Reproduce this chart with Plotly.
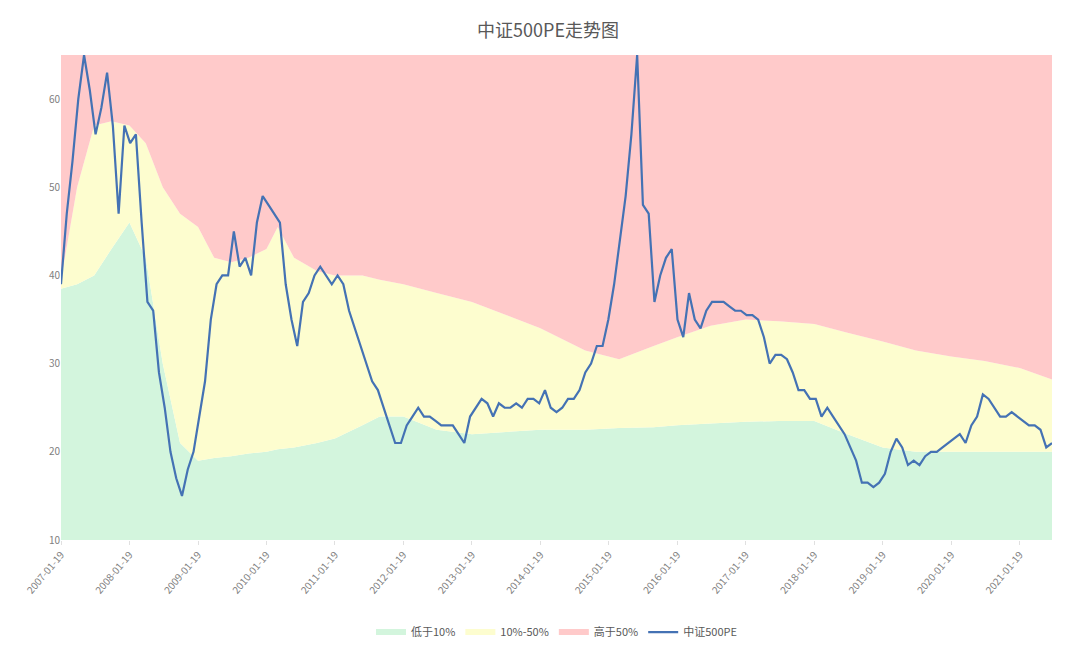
import plotly.graph_objects as go
import pandas as pd

pe_values = [39,47,53,60,65,61,56,59,63,57,47,57,
55,56,46,37,36,29,25,20,17,15,18,20,
24,28,35,39,40,40,45,41,42,40,46,49,
48,47,46,39,35,32,37,38,40,41,40,39,
40,39,36,34,32,30,28,27,25,23,21,21,
23,24,25,24,24,23.5,23,23,23,22,21,24,
25,26,25.5,24,25.5,25,25,25.5,25,26,26,25.5,
27,25,24.5,25,26,26,27,29,30,32,32,35,
39,44,49,56,65,48,47,37,40,42,43,35,
33,38,35,34,36,37,37,37,36.5,36,36,35.5,
35.5,35,33,30,31,31,30.5,29,27,27,26,26,
24,25,24,23,22,20.5,19,16.5,16.5,16,16.5,17.5,
20,21.5,20.5,18.5,19,18.5,19.5,20,20,20.5,21,21.5,
22,21,23,24,26.5,26,25,24,24,24.5,24,23.5,
23,23,22.5,20.5,21]
pe_dates = pd.date_range("2007-01-19", "2021-07-10", periods=len(pe_values))

band_dates = ["2007-01-19","2007-04-15","2007-07-15","2007-10-15","2008-01-19","2008-04-15",
"2008-07-15","2008-10-15","2009-01-19","2009-04-15","2009-07-15","2009-10-15","2010-01-19",
"2010-03-20","2010-06-15","2010-10-15","2011-01-19","2011-06-15","2011-09-15","2012-01-19",
"2012-07-15","2013-01-19","2014-01-19","2014-09-15","2015-03-15","2015-09-15","2016-01-19",
"2016-07-15","2017-01-19","2017-07-15","2018-01-19","2018-07-15","2019-01-19","2019-07-15",
"2020-01-19","2020-07-15","2021-01-19","2021-07-10"]
p10 = [38.5,39,40,43,46,42,30,21,19,19.3,19.5,19.8,20,20.3,20.5,21,21.5,23,24,24,
22.5,22,22.5,22.5,22.7,22.8,23,23.2,23.4,23.5,23.5,22,20.5,20,20,20,20,20]
p50 = [39.5,50,57,57.5,57,55,50,47,45.5,42,41.5,42,43,45.5,42,40.5,40,40,39.5,39,
38,37,34,31.5,30.5,32,33,34.3,35,34.8,34.5,33.5,32.5,31.5,30.8,30.3,29.5,28.2]
top = [65]*len(band_dates)

fig = go.Figure()
fig.add_trace(go.Scatter(x=band_dates, y=p10, fill="tozeroy", mode="none",
    fillcolor="#d3f5dd", name="低于10%"))
fig.add_trace(go.Scatter(x=band_dates, y=p50, fill="tonexty", mode="none",
    fillcolor="#fdfdcf", name="10%-50%"))
fig.add_trace(go.Scatter(x=band_dates, y=top, fill="tonexty", mode="none",
    fillcolor="#ffcaca", name="高于50%"))
fig.add_trace(go.Scatter(x=pe_dates, y=pe_values, mode="lines",
    line=dict(color="#4472b4", width=2.2), name="中证500PE"))

ticks = [f"{y}-01-19" for y in range(2007, 2022)]
fig.update_layout(
    width=1080, height=651, paper_bgcolor="white", plot_bgcolor="white",
    margin=dict(l=53, r=36, t=47, b=114),
    title=dict(text="中证500PE走势图", x=0.5, y=0.975, xanchor="center",
               font=dict(size=18, color="#595959", family="Noto Sans CJK SC")),
    font=dict(family="Noto Sans CJK SC", color="#808080", size=10),
    xaxis=dict(range=["2007-01-19", "2021-07-10"], tickvals=ticks, ticktext=ticks,
               tickangle=-50, showgrid=False, showline=False, ticks="outside",
               tickcolor="#e0e0e0", ticklen=4, automargin=False),
    yaxis=dict(range=[10, 65], tickvals=[10,20,30,40,50,60], showgrid=False,
               zeroline=False, showline=False, automargin=False),
    legend=dict(orientation="h", x=0.5, xanchor="center", y=-0.16, yanchor="top",
                traceorder="normal", font=dict(size=11, color="#595959")),
)
fig.write_html("out.html")
